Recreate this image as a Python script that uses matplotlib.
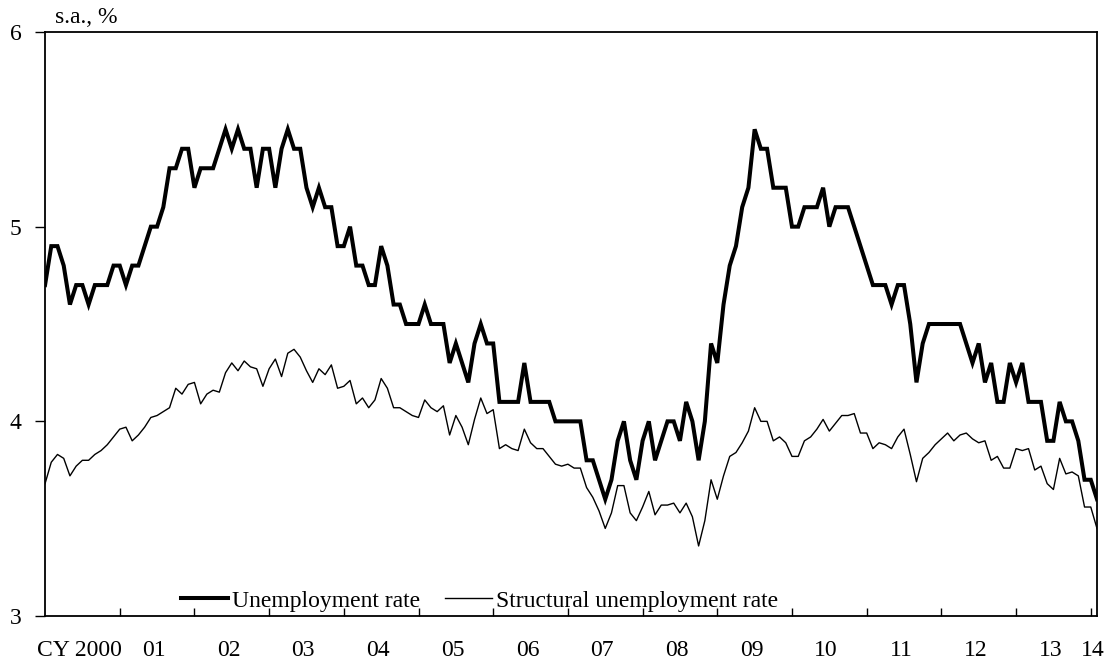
import matplotlib
matplotlib.use("Agg")
import matplotlib.pyplot as plt
import numpy as np

# monthly, Jan 2000 .. Feb 2014 (s.a., %)
unemployment = [
    4.7, 4.9, 4.9, 4.8, 4.6, 4.7, 4.7, 4.6, 4.7, 4.7, 4.7, 4.8,
    4.8, 4.7, 4.8, 4.8, 4.9, 5.0, 5.0, 5.1, 5.3, 5.3, 5.4, 5.4,
    5.2, 5.3, 5.3, 5.3, 5.4, 5.5, 5.4, 5.5, 5.4, 5.4, 5.2, 5.4,
    5.4, 5.2, 5.4, 5.5, 5.4, 5.4, 5.2, 5.1, 5.2, 5.1, 5.1, 4.9,
    4.9, 5.0, 4.8, 4.8, 4.7, 4.7, 4.9, 4.8, 4.6, 4.6, 4.5, 4.5,
    4.5, 4.6, 4.5, 4.5, 4.5, 4.3, 4.4, 4.3, 4.2, 4.4, 4.5, 4.4,
    4.4, 4.1, 4.1, 4.1, 4.1, 4.3, 4.1, 4.1, 4.1, 4.1, 4.0, 4.0,
    4.0, 4.0, 4.0, 3.8, 3.8, 3.7, 3.6, 3.7, 3.9, 4.0, 3.8, 3.7,
    3.9, 4.0, 3.8, 3.9, 4.0, 4.0, 3.9, 4.1, 4.0, 3.8, 4.0, 4.4,
    4.3, 4.6, 4.8, 4.9, 5.1, 5.2, 5.5, 5.4, 5.4, 5.2, 5.2, 5.2,
    5.0, 5.0, 5.1, 5.1, 5.1, 5.2, 5.0, 5.1, 5.1, 5.1, 5.0, 4.9,
    4.8, 4.7, 4.7, 4.7, 4.6, 4.7, 4.7, 4.5, 4.2, 4.4, 4.5, 4.5,
    4.5, 4.5, 4.5, 4.5, 4.4, 4.3, 4.4, 4.2, 4.3, 4.1, 4.1, 4.3,
    4.2, 4.3, 4.1, 4.1, 4.1, 3.9, 3.9, 4.1, 4.0, 4.0, 3.9, 3.7,
    3.7, 3.6,
]

structural = [
    3.68, 3.79, 3.83, 3.81, 3.72, 3.77, 3.80, 3.80, 3.83, 3.85, 3.88, 3.92,
    3.96, 3.97, 3.90, 3.93, 3.97, 4.02, 4.03, 4.05, 4.07, 4.17, 4.14, 4.19,
    4.20, 4.09, 4.14, 4.16, 4.15, 4.25, 4.30, 4.26, 4.31, 4.28, 4.27, 4.18,
    4.27, 4.32, 4.23, 4.35, 4.37, 4.33, 4.26, 4.20, 4.27, 4.24, 4.29, 4.17,
    4.18, 4.21, 4.09, 4.12, 4.07, 4.11, 4.22, 4.17, 4.07, 4.07, 4.05, 4.03,
    4.02, 4.11, 4.07, 4.05, 4.08, 3.93, 4.03, 3.97, 3.88, 4.01, 4.12, 4.04,
    4.06, 3.86, 3.88, 3.86, 3.85, 3.96, 3.89, 3.86, 3.86, 3.82, 3.78, 3.77,
    3.78, 3.76, 3.76, 3.66, 3.61, 3.54, 3.45, 3.53, 3.67, 3.67, 3.53, 3.49,
    3.56, 3.64, 3.52, 3.57, 3.57, 3.58, 3.53, 3.58, 3.51, 3.36, 3.49, 3.70,
    3.60, 3.72, 3.82, 3.84, 3.89, 3.95, 4.07, 4.00, 4.00, 3.90, 3.92, 3.89,
    3.82, 3.82, 3.90, 3.92, 3.96, 4.01, 3.95, 3.99, 4.03, 4.03, 4.04, 3.94,
    3.94, 3.86, 3.89, 3.88, 3.86, 3.92, 3.96, 3.83, 3.69, 3.81, 3.84, 3.88,
    3.91, 3.94, 3.90, 3.93, 3.94, 3.91, 3.89, 3.90, 3.80, 3.82, 3.76, 3.76,
    3.86, 3.85, 3.86, 3.75, 3.77, 3.68, 3.65, 3.81, 3.73, 3.74, 3.72, 3.56,
    3.56, 3.45,
]

year_labels = ["CY 2000", "01", "02", "03", "04", "05", "06", "07",
               "08", "09", "10", "11", "12", "13", "14"]

plt.rcParams["font.family"] = ["Liberation Serif", "DejaVu Serif"]
plt.rcParams["font.size"] = 17


def main():
    x = np.arange(len(unemployment))

    fig = plt.figure(figsize=(11.12, 6.66), dpi=100)
    ax = fig.add_axes([0.0405, 0.075, 0.946, 0.877])

    ax.plot(x, unemployment, color="black", lw=2.9, label="Unemployment rate",
            solid_joinstyle="miter")
    ax.plot(x, structural, color="black", lw=1.0,
            label="Structural unemployment rate")

    ax.set_xlim(0, len(unemployment) - 1)
    ax.set_ylim(3, 6)
    ax.set_yticks([3, 4, 5, 6])

    # year boundaries as ticks, labels centred in each year
    ax.set_xticks(np.arange(12, len(unemployment), 12))
    ax.set_xticklabels([])
    ax.tick_params(axis="x", which="major", direction="in", length=6, width=1)
    label_pos = [5.5 + 12 * i for i in range(14)] + [168.3]
    ax.set_xticks(label_pos, minor=True)
    ax.set_xticklabels(year_labels, minor=True)
    ax.tick_params(axis="x", which="minor", length=0, pad=17)
    ax.tick_params(axis="y", direction="out", length=7, width=1, pad=10)

    for s in ax.spines.values():
        s.set_linewidth(1.3)

    ax.text(0.009, 1.006, "s.a., %", transform=ax.transAxes,
            ha="left", va="bottom")

    ax.legend(loc="center", bbox_to_anchor=(0.413, 0.026), ncol=2,
              frameon=False, handlelength=2.0, handletextpad=0.17,
              columnspacing=1.06, borderaxespad=0)

    fig.savefig("out.png", dpi=100)
    plt.close(fig)


if __name__ == "__main__":
    main()
